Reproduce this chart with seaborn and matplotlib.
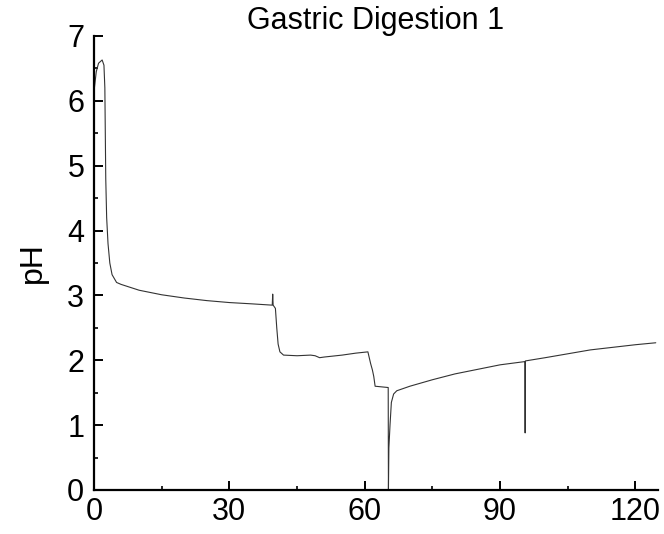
import matplotlib
matplotlib.use("Agg")
import matplotlib.pyplot as plt
import seaborn as sns
import pandas as pd
from matplotlib.ticker import MultipleLocator

time_min = [0, 0.5, 1.0, 1.8, 2.2, 2.4, 2.5, 2.6, 2.8, 3.1, 3.5, 4.0, 5.0, 6.0,
            10, 15, 20, 25, 30, 35, 39.5, 39.6, 39.7, 40.2, 40.5, 40.8, 41.2,
            42, 45, 48, 49, 50, 51, 55, 58, 60.7, 61.3, 61.7, 62.0, 62.3,
            65.2, 65.25, 65.35, 65.6, 65.9, 66.4, 67.1, 70, 75, 80, 85, 90,
            95.5, 95.55, 95.6, 100, 105, 110, 115, 120, 124.5]
ph = [6.15, 6.45, 6.58, 6.63, 6.55, 6.2, 5.5, 4.8, 4.2, 3.8, 3.5, 3.32, 3.2, 3.17,
      3.08, 3.01, 2.96, 2.92, 2.89, 2.87, 2.85, 3.02, 2.85, 2.8, 2.5, 2.25, 2.13,
      2.08, 2.07, 2.08, 2.07, 2.04, 2.05, 2.08, 2.11, 2.13, 1.95, 1.85, 1.75, 1.6,
      1.58, 0.0, 0.65, 1.0, 1.35, 1.48, 1.53, 1.6, 1.7, 1.79, 1.86, 1.93,
      1.98, 0.88, 1.99, 2.04, 2.1, 2.16, 2.2, 2.24, 2.27]

x_ticks = [0, 30, 60, 90, 120]
y_ticks = [0, 1, 2, 3, 4, 5, 6, 7]
title = "Gastric Digestion 1"

df = pd.DataFrame({"time": time_min, "pH": ph})

sns.set_style("ticks")
plt.rcParams["font.family"] = ["Liberation Sans", "DejaVu Sans"]

fig = plt.figure(figsize=(6.64, 5.34), dpi=100)
ax = fig.add_axes([0.1416, 0.0824, 0.8494, 0.8502])

sns.lineplot(data=df, x="time", y="pH", ax=ax, color="#333333", linewidth=0.8,
             estimator=None, sort=False)

ax.set_xlim(0, 125)
ax.set_ylim(0, 7)
ax.set_xticks(x_ticks)
ax.set_yticks(y_ticks)
ax.xaxis.set_minor_locator(MultipleLocator(15))
ax.yaxis.set_minor_locator(MultipleLocator(0.5))
ax.tick_params(which="major", direction="in", length=6.5, width=1.4, labelsize=22,
               colors="black")
ax.tick_params(axis="x", which="major", pad=5)
ax.tick_params(axis="y", which="major", pad=7)
ax.tick_params(which="minor", direction="in", length=3.2, width=1.4)
for s in ["top", "right"]:
    ax.spines[s].set_visible(False)
for s in ["left", "bottom"]:
    ax.spines[s].set_linewidth(1.6)
    ax.spines[s].set_color("black")

ax.set_xlabel("")
ax.set_ylabel("pH", fontsize=23, labelpad=14, color="black")
ax.set_title(title, fontsize=22, pad=4, color="black")

fig.savefig("out.png", dpi=100)
